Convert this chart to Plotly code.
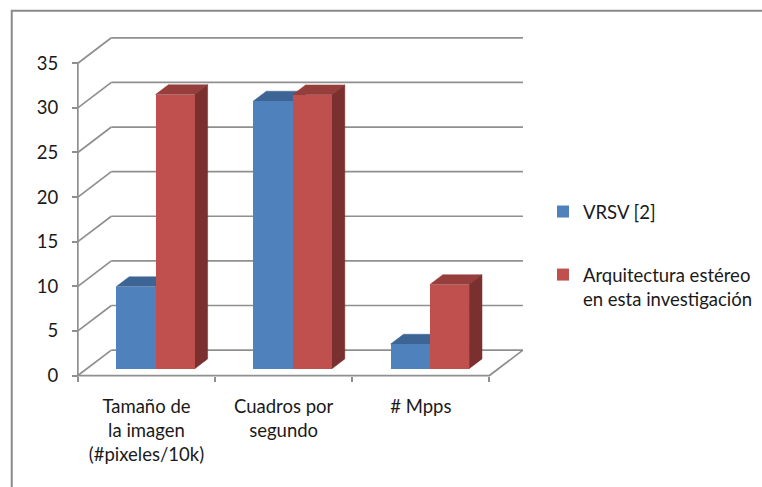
import plotly.graph_objects as go

# --- data -------------------------------------------------------------
categories = ["Tamaño de<br>la imagen<br>(#pixeles/10k)", "Cuadros por<br>segundo", "# Mpps"]
series_names = ["VRSV [2]", "Arquitectura estéreo<br>en esta investigación"]
vrsv = [9.2, 30.0, 2.76]
arquitectura = [30.72, 30.7, 9.43]
y_ticks = [0, 5, 10, 15, 20, 25, 30, 35]

# --- style ------------------------------------------------------------
FRONT = ["#4f81bd", "#c0504d"]
TOP = ["#3c6494", "#953e3b"]
SIDE = ["#395e8b", "#7a302f"]
GRID = "#8f8f8f"
TEXT = "#1a1a1a"
FONT = "Lato"
FS = 18.5

# oblique projection of the depth axis, in (category units, value units)
DX, DY = 0.244, 2.85
F0, F1 = 0.27, 0.655      # bar front / back as fractions of the depth
BAR_W = 0.286             # bar width in category units
Y_TOP = 35

XR = [-0.05, 3.3]
YR = [-0.5, 38.5]
PX_X, PX_Y = 138.0, 8.94  # pixels per unit
ML = 78 - (0 - XR[0]) * PX_X
PW = (XR[1] - XR[0]) * PX_X
PH = (YR[1] - YR[0]) * PX_Y
MB = 487 - (376 + (0 - YR[0]) * PX_Y)
MR = 762 - ML - PW
MT = 487 - MB - PH

fig = go.Figure()

# --- walls and floor ----------------------------------------------------
n = len(categories)
gx, gy = [], []
for v in y_ticks:
    # back wall line
    gx += [DX, n + DX, None]
    gy += [v + DY, v + DY, None]
    # side wall diagonal
    gx += [0, DX, None]
    gy += [v, v + DY, None]
# floor front and right edges, value axis line
gx += [0, n, n + DX, None, 0, 0]
gy += [0, 0, DY, None, 0, Y_TOP]
fig.add_trace(go.Scatter(x=gx, y=gy, mode="lines",
                         line=dict(color=GRID, width=1.7),
                         hoverinfo="skip", showlegend=False))

# --- top and side faces of the bars ------------------------------------
series = [vrsv, arquitectura]
dx0, dy0 = F0 * DX, F0 * DY
ddx, ddy = (F1 - F0) * DX, (F1 - F0) * DY


def bar_left(i, s):
    return i + 0.5 + dx0 - BAR_W + s * BAR_W


for i in range(n):
    for s, vals in enumerate(series):
        xl = bar_left(i, s)
        xr = xl + BAR_W
        h = dy0 + vals[i]
        fig.add_trace(go.Scatter(
            x=[xl, xr, xr + ddx, xl + ddx, xl],
            y=[h, h, h + ddy, h + ddy, h],
            fill="toself", fillcolor=TOP[s], mode="lines",
            line=dict(color=TOP[s], width=0.5),
            hoverinfo="skip", showlegend=False))
        fig.add_trace(go.Scatter(
            x=[xr, xr + ddx, xr + ddx, xr, xr],
            y=[dy0, dy0 + ddy, h + ddy, h, dy0],
            fill="toself", fillcolor=SIDE[s], mode="lines",
            line=dict(color=SIDE[s], width=0.5),
            hoverinfo="skip", showlegend=False))

# --- front faces (bars on an overlaid pair of axes, drawn on top) ------
for s, vals in enumerate(series):
    fig.add_trace(go.Bar(
        x=[bar_left(i, s) + BAR_W / 2 for i in range(n)],
        y=vals, base=dy0, width=BAR_W,
        marker=dict(color=FRONT[s], line=dict(width=0)),
        name=series_names[s], legendgroup=f"g{s}",
        xaxis="x2", yaxis="y2"))

# frame around the chart area
fig.add_shape(type="rect", xref="paper", yref="paper",
              x0=(11.5 - ML) / PW, x1=2.0,
              y0=-1.0, y1=(487 - MB - 10.5) / PH,
              line=dict(color="#8a8a8a", width=2), fillcolor="rgba(0,0,0,0)",
              layer="below")

fig.update_layout(
    width=762, height=487,
    margin=dict(l=ML, r=MR, t=MT, b=MB, pad=0),
    paper_bgcolor="white", plot_bgcolor="white",
    barmode="overlay", bargap=0,
    font=dict(family=FONT, size=FS, color=TEXT),
    xaxis=dict(range=XR, showgrid=False, zeroline=False, showline=False,
               anchor="free", position=(0 - YR[0]) / (YR[1] - YR[0]),
               tickmode="array", tickvals=[i + 0.5 for i in range(n)],
               ticktext=categories, ticks="", ticklabelstandoff=18,
               minor=dict(tickmode="array", tickvals=list(range(n + 1)),
                          ticks="outside", ticklen=5, tickwidth=1.5,
                          tickcolor=GRID, showgrid=False),
               tickfont=dict(family=FONT, size=FS, color=TEXT),
               fixedrange=True),
    yaxis=dict(range=YR, showgrid=False, zeroline=False, showline=False,
               anchor="free", position=(0 - XR[0]) / (XR[1] - XR[0]),
               tickmode="array", tickvals=y_ticks,
               ticks="outside", ticklen=6, tickwidth=1.5, tickcolor=GRID,
               ticklabelstandoff=10,
               tickfont=dict(family=FONT, size=FS, color=TEXT),
               fixedrange=True),
    xaxis2=dict(range=XR, overlaying="x", visible=False, fixedrange=True),
    yaxis2=dict(range=YR, overlaying="y", visible=False, fixedrange=True),
    legend=dict(xref="container", yref="container",
                x=543 / 762, y=1 - 193 / 487, xanchor="left", yanchor="top",
                traceorder="grouped", tracegroupgap=36, valign="top",
                itemwidth=30, bgcolor="rgba(0,0,0,0)",
                font=dict(family=FONT, size=FS, color=TEXT)),
    showlegend=True,
)

fig.write_html("out.html")
